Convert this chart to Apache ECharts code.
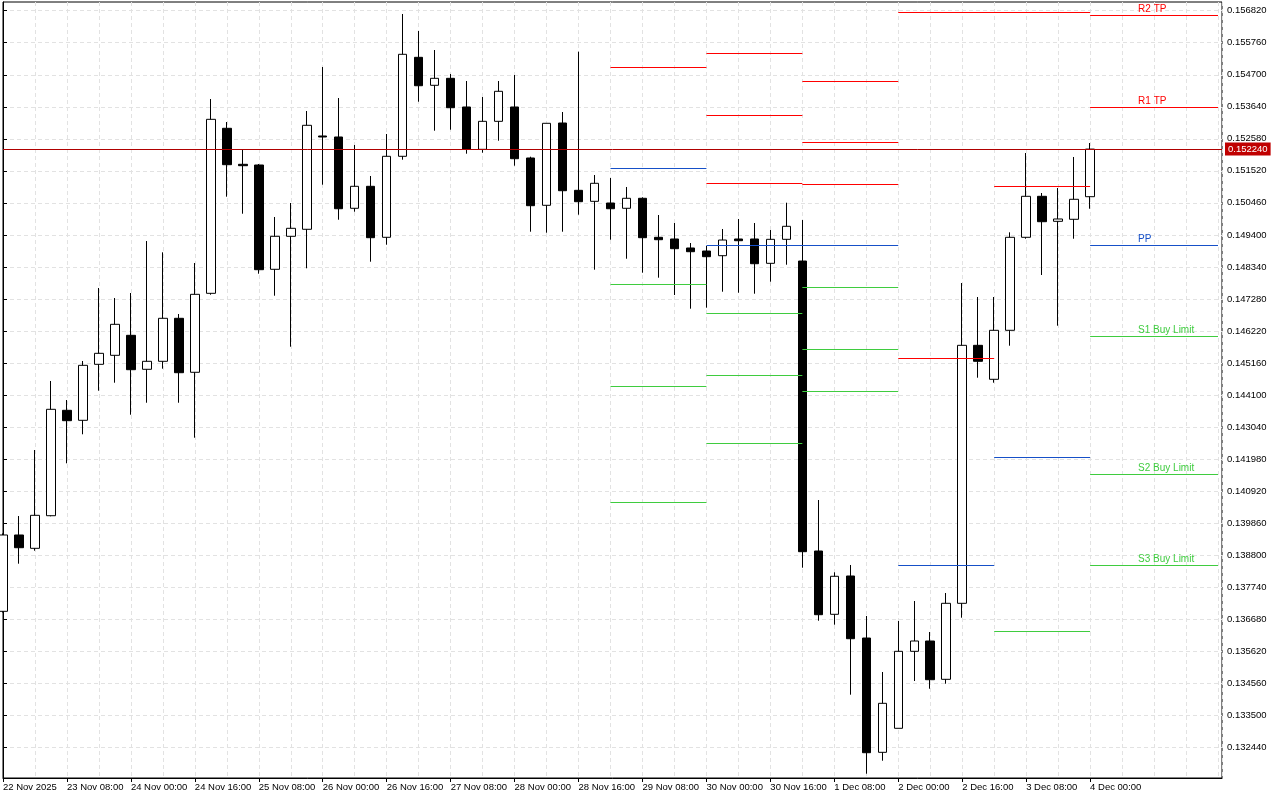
<!DOCTYPE html>
<html>
<head>
<meta charset="utf-8">
<script src="https://cdn.jsdelivr.net/npm/echarts@6/dist/echarts.min.js"></script>
<style>
html,body{margin:0;padding:0;background:#fff;}
#chart{width:1280px;height:800px;}
</style>
</head>
<body>
<div id="chart"></div>
<script>
// 4h candles, first one 22 Nov 2025 16:00, last one 4 Dec 2025 00:00
const opens  = [0.136941,0.139467,0.139026,0.140105,0.143594,0.143263,0.145116,0.145414,0.146076,0.144951,
                0.145216,0.146639,0.144852,0.147466,0.152928,0.151736,0.151713,0.148261,0.149353,0.149585,
                0.152673,0.152640,0.150280,0.151008,0.149320,0.152001,0.155277,0.154351,0.154582,0.153633,
                0.152232,0.153159,0.153633,0.151945,0.150379,0.153103,0.150875,0.150511,0.150455,0.150280,
                0.150611,0.149320,0.149264,0.148966,0.148866,0.148711,0.149264,0.149264,0.148459,0.149253,
                0.148535,0.138937,0.136842,0.138110,0.136057,0.132274,0.133069,0.135617,0.135958,0.134690,
                0.137206,0.145745,0.144620,0.146242,0.149320,0.150677,0.149849,0.149916,0.150664];
const closes = [0.139467,0.139046,0.140118,0.143627,0.143250,0.145083,0.145480,0.146440,0.144938,0.145216,
                0.146639,0.144838,0.147433,0.153225,0.151723,0.151690,0.148248,0.149353,0.149618,0.153027,
                0.152640,0.150266,0.151008,0.149307,0.152001,0.155377,0.154337,0.154582,0.153609,0.152242,
                0.153159,0.154152,0.151921,0.150366,0.153093,0.150862,0.150498,0.151107,0.150266,0.150611,
                0.149307,0.149240,0.148943,0.148843,0.148678,0.149230,0.149207,0.148446,0.149253,0.149684,
                0.138914,0.136829,0.138100,0.136034,0.132261,0.133896,0.135617,0.135958,0.134677,0.137206,
                0.145745,0.145216,0.146242,0.149320,0.150677,0.149836,0.149926,0.150578,0.152240];
const lows   = [0.136900,0.138517,0.138947,0.140085,0.141840,0.142800,0.144243,0.144507,0.143448,0.143845,
                0.144971,0.143845,0.142687,0.147420,0.150664,0.150101,0.148115,0.147387,0.145699,0.148294,
                0.151061,0.149902,0.150167,0.148512,0.149075,0.151888,0.153808,0.152848,0.152881,0.152087,
                0.152120,0.152517,0.151690,0.149505,0.149472,0.149505,0.150068,0.148248,0.149240,0.148611,
                0.148148,0.147983,0.147410,0.146957,0.146990,0.147519,0.147486,0.147453,0.147850,0.148413,
                0.138384,0.136630,0.136498,0.134181,0.131566,0.131996,0.133069,0.134634,0.134379,0.134545,
                0.136729,0.144673,0.144507,0.145732,0.149273,0.148072,0.146394,0.149273,0.150266];
const highs  = [0.139520,0.140095,0.142280,0.144564,0.143935,0.145226,0.147642,0.147311,0.147476,0.149197,
                0.148823,0.146781,0.148469,0.153897,0.153136,0.152209,0.151746,0.149992,0.150455,0.153500,
                0.154956,0.153930,0.152375,0.151349,0.152739,0.156711,0.156148,0.155519,0.154725,0.154493,
                0.153963,0.154493,0.154692,0.151988,0.153093,0.153467,0.155463,0.151382,0.151283,0.150985,
                0.150644,0.150058,0.149793,0.149131,0.149032,0.149595,0.149926,0.149793,0.149561,0.150465,
                0.149892,0.140625,0.138232,0.138474,0.136786,0.134932,0.136620,0.137282,0.136256,0.137547,
                0.147807,0.147344,0.147344,0.149485,0.152110,0.150786,0.150952,0.151978,0.152441];

const xTickLabels = ['22 Nov 2025','23 Nov 08:00','24 Nov 00:00','24 Nov 16:00','25 Nov 08:00','26 Nov 00:00',
                     '26 Nov 16:00','27 Nov 08:00','28 Nov 00:00','28 Nov 16:00','29 Nov 08:00','30 Nov 00:00',
                     '30 Nov 16:00','1 Dec 08:00','2 Dec 00:00','2 Dec 16:00','3 Dec 08:00','4 Dec 00:00'];
const barsPerXLabel = 4;
const yTickLabels = [0.156820,0.155760,0.154700,0.153640,0.152580,0.151520,0.150460,0.149400,0.148340,0.147280,
                     0.146220,0.145160,0.144100,0.143040,0.141980,0.140920,0.139860,0.138800,0.137740,0.136680,
                     0.135620,0.134560,0.133500,0.132440];
const lastPrice = 0.152240;

// pivot segments: [startBar, endBar, level]
const resistanceSegs = [[38,44,0.154947],
                        [44,50,0.155410],[44,50,0.153358],[44,50,0.151107],
                        [50,56,0.154483],[50,56,0.152464],[50,56,0.151074],
                        [56,68,0.156767],[56,62,0.145315],
                        [62,68,0.151018],
                        [68,76,0.156668],[68,76,0.153623]];
const pivotSegs      = [[38,44,0.151604],[44,56,0.149055],[56,62,0.138464],[62,68,0.142038],[68,76,0.149055]];
const supportSegs    = [[38,44,0.147764],[38,44,0.144388],[38,44,0.140549],
                        [44,50,0.146804],[44,50,0.144752],[44,50,0.142502],
                        [50,56,0.147665],[50,56,0.145613],[50,56,0.144223],
                        [62,68,0.136279],
                        [68,76,0.146043],[68,76,0.141476],[68,76,0.138464]];
const levelNames  = ['R2 TP','R1 TP','PP','S1 Buy Limit','S2 Buy Limit','S3 Buy Limit'];
const levelValues = [0.156668,0.153623,0.149055,0.146043,0.141476,0.138464];
const levelKinds  = ['r','r','p','s','s','s'];
const levelLabelBar = 71;

// ---------- build ----------
const RED = '#ff0000', BLUE = '#1650c8', GREEN = '#3fcc3f';
const FONT = 'Liberation Sans';
const X_MAX = 76.25;
const candleData = opens.map((o, i) => [i, o, closes[i], lows[i], highs[i]]);
const xTickIdx = xTickLabels.map((_, i) => i * barsPerXLabel);
const segLines = segs => segs.map(s => [{coord: [s[0], s[2]]}, {coord: [s[1], s[2]]}]);
const kindColor = {r: RED, p: BLUE, s: GREEN};

const gridLine = {show: true, lineStyle: {color: '#e2e2e2', type: [4, 3], width: 1}};

function segSeries(name, segs, color) {
  return {
    name, type: 'line', data: [], silent: true,
    markLine: {
      silent: true, symbol: 'none', animation: false,
      label: {show: false},
      lineStyle: {color, width: 1, type: 'solid'},
      emphasis: {disabled: true},
      data: segLines(segs)
    }
  };
}

const option = {
  animation: false,
  backgroundColor: '#ffffff',
  grid: {left: 2, right: 58, top: 2, bottom: 22, show: true, borderColor: '#000', borderWidth: 1},
  xAxis: [
    {
      type: 'value', min: 0, max: X_MAX, position: 'bottom',
      axisLine: {show: true, lineStyle: {color: '#000', width: 1}},
      axisTick: {show: true, customValues: xTickIdx, length: 4, lineStyle: {color: '#000'}},
      axisLabel: {
        customValues: xTickIdx, color: '#000', fontFamily: FONT, fontSize: 9.5,
        margin: 4, align: 'left',
        formatter: v => xTickLabels[Math.round(v / barsPerXLabel)] || ''
      },
      splitLine: {show: false}
    },
    {
      type: 'value', min: 0, max: X_MAX, interval: 2, position: 'top',
      axisLine: {show: false}, axisTick: {show: false}, axisLabel: {show: false},
      splitLine: gridLine
    }
  ],
  yAxis: {
    type: 'value', position: 'right', min: 0.131424, max: 0.157108,
    axisLine: {show: true, lineStyle: {color: '#000', width: 1}},
    axisTick: {show: true, customValues: yTickLabels, length: 4, lineStyle: {color: '#000'}},
    axisLabel: {
      customValues: yTickLabels, color: '#000', fontFamily: FONT, fontSize: 9.5, margin: 5,
      formatter: v => v.toFixed(6)
    },
    splitLine: gridLine
  },
  series: [
    segSeries('R', resistanceSegs, RED),
    segSeries('PP', pivotSegs, BLUE),
    segSeries('S', supportSegs, GREEN),
    {
      name: 'labels', type: 'line', data: [], silent: true,
      markPoint: {
        silent: true, symbol: 'circle', symbolSize: 0, animation: false,
        data: levelNames.map((n, i) => ({
          coord: [levelLabelBar, levelValues[i]],
          label: {
            show: true, position: 'right', distance: 0, offset: [0, -6],
            formatter: n, color: kindColor[levelKinds[i]], fontFamily: FONT, fontSize: 10
          }
        }))
      }
    },
    {
      name: 'price', type: 'candlestick', data: candleData,
      encode: {x: 0, y: [1, 2, 3, 4]},
      barWidth: 9, silent: true,
      itemStyle: {
        color: '#ffffff', color0: '#000000',
        borderColor: '#000000', borderColor0: '#000000', borderColorDoji: '#000000',
        borderWidth: 1
      },
      emphasis: {disabled: true}
    },
    {
      name: 'last', type: 'line', data: [], silent: true,
      markLine: {
        silent: true, symbol: 'none', animation: false,
        lineStyle: {color: '#b00000', width: 1, type: 'solid'},
        label: {
          show: true, position: 'end', distance: 3,
          formatter: () => lastPrice.toFixed(6),
          backgroundColor: '#c00000', color: '#ffffff',
          fontFamily: FONT, fontSize: 9.5, padding: [2, 3, 1, 3]
        },
        data: [[{coord: [0, lastPrice]}, {coord: [X_MAX, lastPrice]}]]
      }
    }
  ]
};

const chart = echarts.init(document.getElementById('chart'), null, {renderer: 'canvas'});
chart.setOption(option);
</script>
</body>
</html>
